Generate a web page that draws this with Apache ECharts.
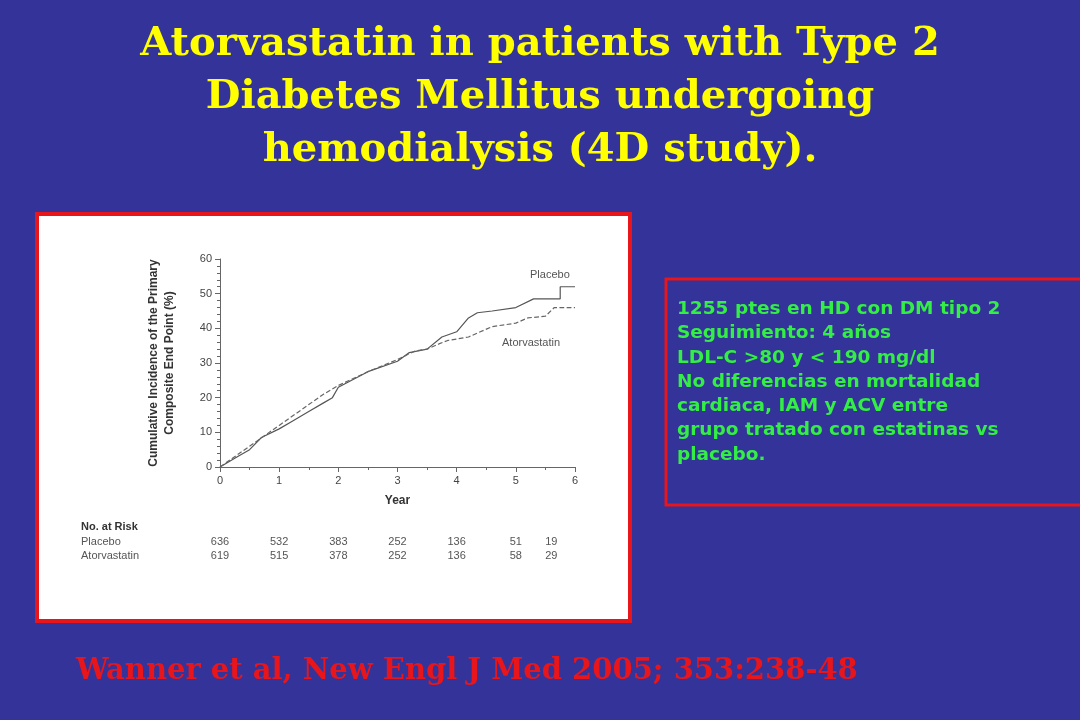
<!DOCTYPE html>
<html><head><meta charset="utf-8">
<script src="https://cdn.jsdelivr.net/npm/echarts@6/dist/echarts.min.js"></script>
<style>html,body{margin:0;background:#333399;}#c{width:1080px;height:720px;}</style>
</head><body><div id="c"></div>
<script>
const years = [0, 1, 2, 3, 4, 5, 6];
const placebo = [[0,0],[0.3,3],[0.5,5],[0.7,8.5],[1,11],[1.2,13],[1.5,16],[1.75,18.5],[1.9,20],[2,23],[2.5,27.5],[3,30.5],[3.2,33],[3.5,34],[3.75,37.5],[4,39],[4.2,43],[4.35,44.5],[4.6,45],[5,46],[5.3,48.5],[5.75,48.5],[5.75,52],[6,52]];
const atorva = [[0,0],[0.5,6],[1,12],[1.5,18],[1.75,21],[2,23.5],[2.5,27.5],[3,31],[3.3,33.5],[3.5,34],[3.7,35.5],[3.85,36.5],[4.2,37.5],[4.6,40.5],[5,41.5],[5.2,43],[5.5,43.5],[5.65,46],[6,46]];
const riskYears = [0, 1, 2, 3, 4, 5, 5.6];
const riskPlacebo = [636, 532, 383, 252, 136, 51, 19];
const riskAtorva = [619, 515, 378, 252, 136, 58, 29];
const infoLines = ['1255 ptes en HD con DM tipo 2','Seguimiento: 4 años','LDL-C >80 y < 190 mg/dl','No diferencias en mortalidad','cardiaca, IAM y ACV entre','grupo tratado con estatinas vs','placebo.'];

const chart = echarts.init(document.getElementById('c'));
const font = 'Liberation Sans';
const graphic = [
  {type:'rect', z:-1, shape:{x:37,y:214,width:593,height:407}, style:{fill:'#fff',stroke:'#e8151b',lineWidth:4}},
  {type:'text', x:540, y:18, style:{text:'Atorvastatin in patients with Type 2\nDiabetes Mellitus undergoing\nhemodialysis (4D study).', fill:'#ffff00', font:'bold 40px "DejaVu Serif"', align:'center', lineHeight:53}},
  {type:'text', x:76, y:657, style:{text:'Wanner et al, New Engl J Med 2005; 353:238-48', fill:'#e8151b', font:'bold 29px "DejaVu Serif"'}},
  {type:'rect', shape:{x:666,y:279,width:416,height:226}, style:{fill:'none',stroke:'#e8151b',lineWidth:3}},
  {type:'text', x:677, y:297, style:{text:infoLines.join('\n'), fill:'#33ee44', font:'bold 18.5px "DejaVu Sans"', lineHeight:24.3}},
  {type:'text', x:530, y:269, style:{text:'Placebo', fill:'#555', font:'11px '+font}},
  {type:'text', x:502, y:337, style:{text:'Atorvastatin', fill:'#555', font:'11px '+font}},
  {type:'text', x:81, y:521, style:{text:'No. at Risk', fill:'#333', font:'bold 11px '+font}},
  {type:'text', x:81, y:536, style:{text:'Placebo', fill:'#555', font:'11px '+font}},
  {type:'text', x:81, y:550, style:{text:'Atorvastatin', fill:'#555', font:'11px '+font}}
];
chart.setOption({
  animation:false,
  grid:{left:220, right:505, top:259, bottom:253},
  xAxis:{type:'value', min:0, max:6, interval:1, name:'Year', nameLocation:'middle', nameGap:28,
    nameTextStyle:{fontWeight:'bold', color:'#333', fontSize:12, fontFamily:font},
    axisLine:{lineStyle:{color:'#666'}}, axisTick:{lineStyle:{color:'#666'}}, minorTick:{show:true, splitNumber:2},
    splitLine:{show:false}, axisLabel:{color:'#444', fontSize:11, fontFamily:font}},
  yAxis:{type:'value', min:0, max:60, interval:10, name:'Cumulative Incidence of the Primary\nComposite End Point (%)', nameLocation:'middle', nameGap:42,
    nameTextStyle:{fontWeight:'bold', color:'#333', fontSize:12, fontFamily:font, lineHeight:16},
    axisLine:{show:true, lineStyle:{color:'#666'}}, axisTick:{lineStyle:{color:'#666'}}, minorTick:{show:true, splitNumber:5},
    splitLine:{show:false}, axisLabel:{color:'#444', fontSize:11, fontFamily:font}},
  series:[
    {name:'Placebo', type:'line', data:placebo, showSymbol:false, lineStyle:{color:'#555', width:1.2}},
    {name:'Atorvastatin', type:'line', data:atorva, showSymbol:false, lineStyle:{color:'#666', width:1.2, type:'dashed'}}
  ],
  graphic:graphic
});
const extra = [];
riskYears.forEach((y, i) => {
  const x = chart.convertToPixel({gridIndex:0}, [y, 0])[0];
  extra.push({type:'text', x:x, y:536, style:{text:String(riskPlacebo[i]), fill:'#555', font:'11px '+font, align:'center'}});
  extra.push({type:'text', x:x, y:550, style:{text:String(riskAtorva[i]), fill:'#555', font:'11px '+font, align:'center'}});
});
chart.setOption({graphic:graphic.concat(extra)});
</script></body></html>
